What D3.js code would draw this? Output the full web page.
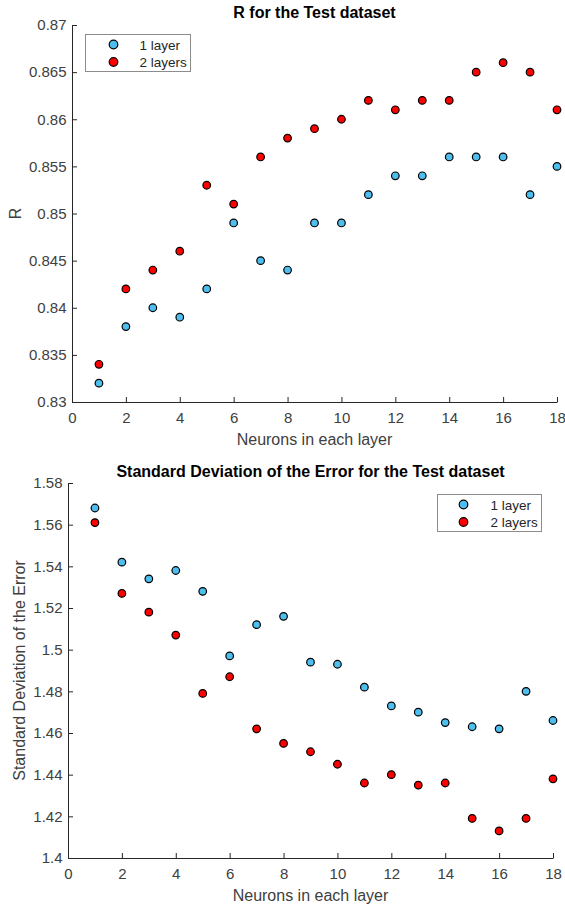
<!DOCTYPE html>
<html><head><meta charset="utf-8">
<script src="https://cdn.jsdelivr.net/npm/d3@7"></script>
<style>
body{margin:0;background:#fff;}
text{font-family:"Liberation Sans",Arial,sans-serif;}
</style></head><body>
<svg id="c" width="565" height="908"></svg>
<script>
const neurons = [1,2,3,4,5,6,7,8,9,10,11,12,13,14,15,16,17,18];
const r1Layer = [0.832,0.838,0.840,0.839,0.842,0.849,0.845,0.844,0.849,0.849,0.852,0.854,0.854,0.856,0.856,0.856,0.852,0.855];
const r2Layers = [0.834,0.842,0.844,0.846,0.853,0.851,0.856,0.858,0.859,0.860,0.862,0.861,0.862,0.862,0.865,0.866,0.865,0.861];
const sd1Layer = [1.568,1.542,1.534,1.538,1.528,1.497,1.512,1.516,1.494,1.493,1.482,1.473,1.470,1.465,1.463,1.462,1.480,1.466];
const sd2Layers = [1.561,1.527,1.518,1.507,1.479,1.487,1.462,1.455,1.451,1.445,1.436,1.440,1.435,1.436,1.419,1.413,1.419,1.438];
const xTicks = [0,2,4,6,8,10,12,14,16,18];
const rTicks = [0.83,0.835,0.84,0.845,0.85,0.855,0.86,0.865,0.87];
const sdTicks = [1.4,1.42,1.44,1.46,1.48,1.5,1.52,1.54,1.56,1.58];
const seriesNames = ["1 layer","2 layers"];
const seriesColors = ["#4DBEEE","#FF0000"];

const svg = d3.select("#c");
const axisColor = "#262626";

function panel(cfg){
  const g = svg.append("g");
  const x = d3.scaleLinear().domain([0,18]).range([cfg.left, cfg.right]);
  const y = d3.scaleLinear().domain(cfg.ydom).range([cfg.bottom, cfg.top]);
  const xa = g.append("g").attr("transform",`translate(0,${cfg.bottom})`)
    .call(d3.axisBottom(x).tickValues(xTicks).tickSizeInner(-5).tickSizeOuter(0).tickPadding(10).tickFormat(d3.format("d")));
  const ya = g.append("g").attr("transform",`translate(${cfg.left},0)`)
    .call(d3.axisLeft(y).tickValues(cfg.yticks).tickSizeInner(-5).tickSizeOuter(0).tickPadding(5.5).tickFormat(d=>String(+d.toFixed(3))));
  [xa,ya].forEach(a=>{
    a.selectAll("path").attr("stroke",axisColor).attr("stroke-width",1);
    a.selectAll("line").attr("stroke",axisColor).attr("stroke-width",1);
    a.selectAll("text").attr("fill","#404040").style("font-size","15px").style("font-family",'"Liberation Sans",Arial,sans-serif');
  });
  g.append("text").attr("x",(cfg.left+cfg.right)/2).attr("y",cfg.titleY).attr("text-anchor","middle")
    .style("font-size","16px").style("font-weight","bold").attr("fill","#000").text(cfg.title);
  g.append("text").attr("x",(cfg.left+cfg.right)/2).attr("y",cfg.bottom+43).attr("text-anchor","middle")
    .style("font-size","16px").attr("fill","#404040").text("Neurons in each layer");
  g.append("text").attr("transform",`translate(${cfg.ylabX},${(cfg.top+cfg.bottom)/2}) rotate(-90)`)
    .attr("text-anchor","middle").style("font-size","16px").attr("fill","#404040").text(cfg.ylabel);
  cfg.series.forEach((s,i)=>{
    g.append("g").selectAll("circle").data(neurons.map((n,j)=>[n,s[j]])).join("circle")
      .attr("cx",d=>x(d[0])).attr("cy",d=>y(d[1])).attr("r",3.8)
      .attr("fill",seriesColors[i]).attr("stroke","#000").attr("stroke-width",1.2);
  });
  const L = cfg.legend;
  const lg = g.append("g");
  lg.append("rect").attr("x",L.x).attr("y",L.y).attr("width",L.w).attr("height",L.h)
    .attr("fill","#fff").attr("stroke","#8c8c8c").attr("stroke-width",1);
  seriesNames.forEach((nm,i)=>{
    const cy = L.y + 10 + i*17.5;
    lg.append("circle").attr("cx",L.x+L.mx).attr("cy",cy).attr("r",4.3)
      .attr("fill",seriesColors[i]).attr("stroke","#000").attr("stroke-width",1.2);
    lg.append("text").attr("x",L.x+L.tx).attr("y",cy+5).style("font-size","13.5px").attr("fill","#262626").text(nm);
  });
}

panel({left:72,right:557,top:25,bottom:402,ydom:[0.83,0.87],yticks:rTicks,
  title:"R for the Test dataset",titleY:18,ylabel:"R",ylabX:20.5,
  series:[r1Layer,r2Layers],
  legend:{x:85.5,y:34.5,w:105,h:37,mx:28,tx:54}});

panel({left:68,right:553,top:483,bottom:858,ydom:[1.4,1.58],yticks:sdTicks,
  title:"Standard Deviation of the Error for the Test dataset",titleY:477,ylabel:"Standard Deviation of the Error",ylabX:25,
  series:[sd1Layer,sd2Layers],
  legend:{x:437.5,y:494.5,w:104,h:37,mx:26,tx:53}});
</script>
</body></html>
